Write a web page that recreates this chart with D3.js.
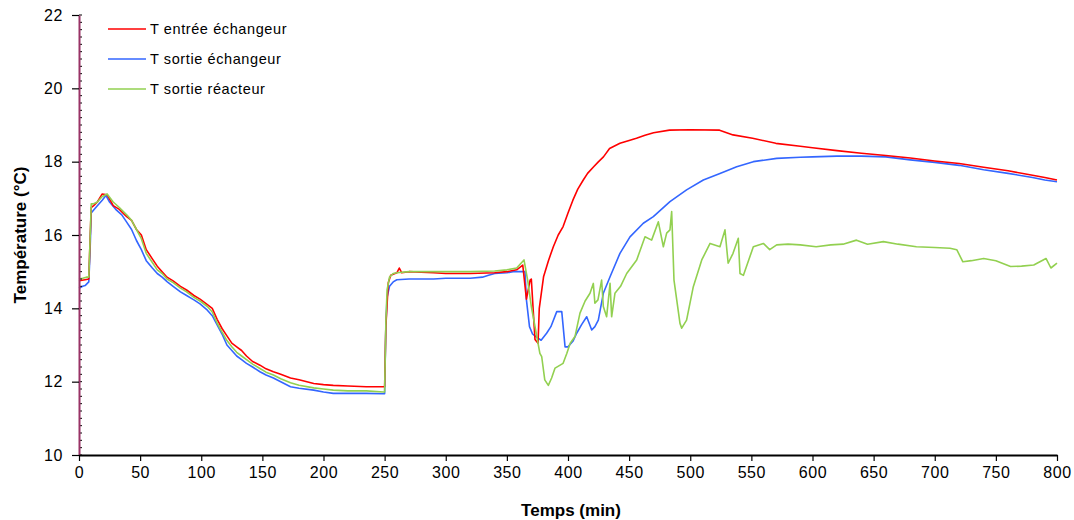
<!DOCTYPE html>
<html><head><meta charset="utf-8">
<script src="https://cdn.jsdelivr.net/npm/d3@7"></script>
<style>body{margin:0;background:#fff}svg{display:block}text{font-family:"Liberation Sans",Arial,sans-serif;fill:#000}</style>
</head><body><svg id="c" width="1074" height="520"></svg>
<script>
const seriesNames = ["T entrée échangeur","T sortie échangeur","T sortie réacteur"];
const seriesColors = ["#FF0000","#3366FF","#92D050"];
const xTicks = [0,50,100,150,200,250,300,350,400,450,500,550,600,650,700,750,800];
const yTicks = [10,12,14,16,18,20,22];

const redT = [0,5,8,9,10,12,15,19,23,28,33,39,43,47,51,55,60,64,68,72,77,83,88,94,99,105,109,113,117,121,125,129,133,137,142,148,153,159,165,173,180,192,200,208,220,235,250,251,253,255,260,262,264,270,290,300,320,340,350,358,363,366,369,370,373,375.5,376.5,380,384,388,392,396,400,404,408,412.5,416,421,425,429,434,442.5,450,456,463,470,483,500,524,535,551,570,590,600,620,640,660,680,700,720,740,760,780,790,800];
const redV = [14.75,14.78,14.8,15.8,16.75,16.8,16.9,17.12,17.1,16.8,16.7,16.5,16.4,16.15,16.0,15.6,15.35,15.15,15.0,14.85,14.75,14.6,14.5,14.35,14.25,14.1,14.0,13.7,13.45,13.25,13.05,12.95,12.85,12.7,12.55,12.45,12.35,12.27,12.2,12.1,12.05,11.95,11.92,11.9,11.88,11.86,11.86,13.5,14.7,14.9,14.97,15.1,14.97,15.0,14.97,14.95,14.95,14.97,15.0,15.05,15.18,14.25,14.77,14.8,13.15,13.05,14.0,14.86,15.3,15.68,16.0,16.23,16.6,16.95,17.25,17.5,17.68,17.86,18.0,18.13,18.36,18.5,18.58,18.64,18.72,18.79,18.86,18.87,18.86,18.73,18.64,18.5,18.42,18.38,18.3,18.23,18.17,18.1,18.02,17.95,17.85,17.75,17.63,17.57,17.5];

const blueT = [0,3,5,8,9,10,12,15,19,22,25,30,35,39,43,47,51,55,60,64,68,72,77,83,88,94,99,105,109,113,117,121,125,129,133,137,142,148,153,159,165,173,180,192,200,208,220,235,249,250,251,252,254,257,260,270,290,300,320,330,335,340,350,355,
  360,364.8,366,368.5,371,374,378,382.5,386,390.8,394.9,397.6,400,404,407.1,411,415.3,419.4,422,424.8,428.9,434.4,442.5,450.7,461.6,469.8,483.4,497,510.7,524.3,538,551.6,570.7,590,600,620,640,660,680,700,720,740,760,780,790,800];
const blueV = [14.55,14.6,14.62,14.72,15.5,16.6,16.68,16.8,16.95,17.08,16.9,16.7,16.55,16.35,16.15,15.85,15.6,15.3,15.1,14.95,14.85,14.73,14.6,14.45,14.35,14.23,14.12,13.95,13.8,13.55,13.3,13.0,12.85,12.7,12.6,12.5,12.4,12.27,12.18,12.1,12.0,11.86,11.82,11.77,11.72,11.68,11.68,11.68,11.67,11.67,13.5,14.3,14.6,14.72,14.78,14.8,14.8,14.82,14.82,14.85,14.9,14.95,14.97,15.0,
  15.0,15.0,14.23,13.5,13.3,13.22,13.13,13.32,13.5,13.91,13.91,12.95,12.95,13.1,13.32,13.55,13.77,13.41,13.5,13.68,14.41,14.86,15.5,15.95,16.32,16.5,16.91,17.23,17.5,17.68,17.86,18.0,18.09,18.12,18.13,18.15,18.15,18.13,18.05,17.98,17.9,17.78,17.68,17.57,17.5,17.45];

const greenT = [0,3,6,8,9,10,12,15,19,23,28,33,39,43,47,51,55,60,64,68,72,77,83,88,94,99,105,109,113,117,121,125,129,133,137,142,148,153,159,165,173,180,192,200,208,220,235,249,250,251,252,254,257,260,270,290,300,320,340,350,358,364,367,370,374,377,378.5,381,383.9,386.6,389.4,396,399,401.8,405.7,409.8,414,418,420.7,422,424.5,427.5,428.9,431.6,434.4,435.7,438.4,443,448,456.2,463,468.4,473.9,478,480.7,483.4,484.8,486.7,491.6,493,497,502.5,509.4,516.2,524.3,528.4,531,535,539.3,540.7,543.5,551.6,559.8,565,570.7,580,590,603,615,625,636,645,658,670,685,700,712.5,718,723,730,740,750,762,771,781,791,795,800];
const greenV = [14.8,14.82,14.85,14.85,15.8,16.85,16.85,16.9,17.05,17.12,16.9,16.75,16.55,16.4,16.15,15.9,15.5,15.25,15.05,14.95,14.8,14.7,14.55,14.45,14.3,14.2,14.05,13.9,13.6,13.35,13.12,12.95,12.8,12.7,12.6,12.48,12.36,12.26,12.18,12.08,11.97,11.9,11.83,11.8,11.77,11.75,11.75,11.72,11.72,13.6,14.5,14.85,14.95,14.97,15.0,15.0,15.0,15.0,15.02,15.05,15.1,15.32,14.77,14.05,13.32,12.77,12.68,12.05,11.9,12.1,12.37,12.5,12.77,13.05,13.23,13.87,14.2,14.41,14.68,14.14,14.23,14.77,14.05,13.77,14.68,13.77,14.41,14.6,14.95,15.32,15.95,15.86,16.36,15.68,16.05,16.14,16.64,14.77,13.59,13.46,13.68,14.59,15.32,15.77,15.68,16.14,15.23,15.5,15.91,14.95,14.9,15.68,15.77,15.6,15.73,15.75,15.73,15.68,15.73,15.75,15.86,15.75,15.82,15.75,15.68,15.66,15.64,15.6,15.27,15.3,15.36,15.3,15.14,15.15,15.18,15.36,15.1,15.23];

const series = [
  {name:seriesNames[0], color:seriesColors[0], t:redT, v:redV},
  {name:seriesNames[1], color:seriesColors[1], t:blueT, v:blueV},
  {name:seriesNames[2], color:seriesColors[2], t:greenT, v:greenV}
];

const svg = d3.select("#c");
const x = d3.scaleLinear().domain([0,800]).range([79,1057]);
const y = d3.scaleLinear().domain([10,22]).range([455,15]);

const line = d3.line().x(d=>x(d[0])).y(d=>y(d[1]));
const drawOrder = [1,0,2];
drawOrder.forEach(i=>{
  const s = series[i];
  svg.append("path").datum(s.t.map((t,k)=>[t,s.v[k]]))
    .attr("d", line).attr("fill","none").attr("stroke", s.color)
    .attr("stroke-width",1.6).attr("stroke-linejoin","round");
});

// x axis
const xAxis = d3.axisBottom(x).tickValues(xTicks).tickSize(6).tickSizeOuter(0).tickPadding(6);
const gx = svg.append("g").attr("transform","translate(0,455)").call(xAxis);
gx.select(".domain").attr("stroke","#000").attr("stroke-width",2);
gx.selectAll(".tick line").attr("stroke","#000").attr("stroke-width",1.2);
gx.selectAll(".tick text").attr("font-size",16).style("letter-spacing","0.6px").attr("fill","#000");

// y axis
const minor = d3.range(10,22.001,0.2);
svg.append("g").selectAll("line").data(minor).join("line")
  .attr("x1",79).attr("x2",82).attr("y1",d=>y(d)).attr("y2",d=>y(d))
  .attr("stroke","#000").attr("stroke-width",1);
const yAxis = d3.axisLeft(y).tickValues(yTicks).tickSize(7).tickSizeOuter(0).tickPadding(9);
const gy = svg.append("g").attr("transform","translate(79,0)").call(yAxis);
gy.select(".domain").attr("stroke","#993366").attr("stroke-width",2);
gy.selectAll(".tick line").attr("stroke","#000").attr("stroke-width",1.2);
gy.selectAll(".tick text").attr("font-size",16).style("letter-spacing","0.6px").attr("fill","#000");
gx.raise();

// axis titles
svg.append("text").attr("x",571).attr("y",516).attr("text-anchor","middle")
  .attr("font-size",17).attr("font-weight","bold").text("Temps (min)");
svg.append("text").attr("transform","translate(26,235) rotate(-90)").attr("text-anchor","middle")
  .attr("font-size",17).attr("font-weight","bold").text("Température (°C)");

// legend
const lg = svg.append("g");
series.forEach((s,i)=>{
  const yy = 29 + i*30;
  lg.append("line").attr("x1",108).attr("x2",146).attr("y1",yy).attr("y2",yy)
    .attr("stroke",s.color).attr("stroke-width",1.6);
  lg.append("text").attr("x",150).attr("y",yy+5).attr("font-size",14.5)
    .style("letter-spacing","0.6px").text(s.name);
});
</script></body></html>
